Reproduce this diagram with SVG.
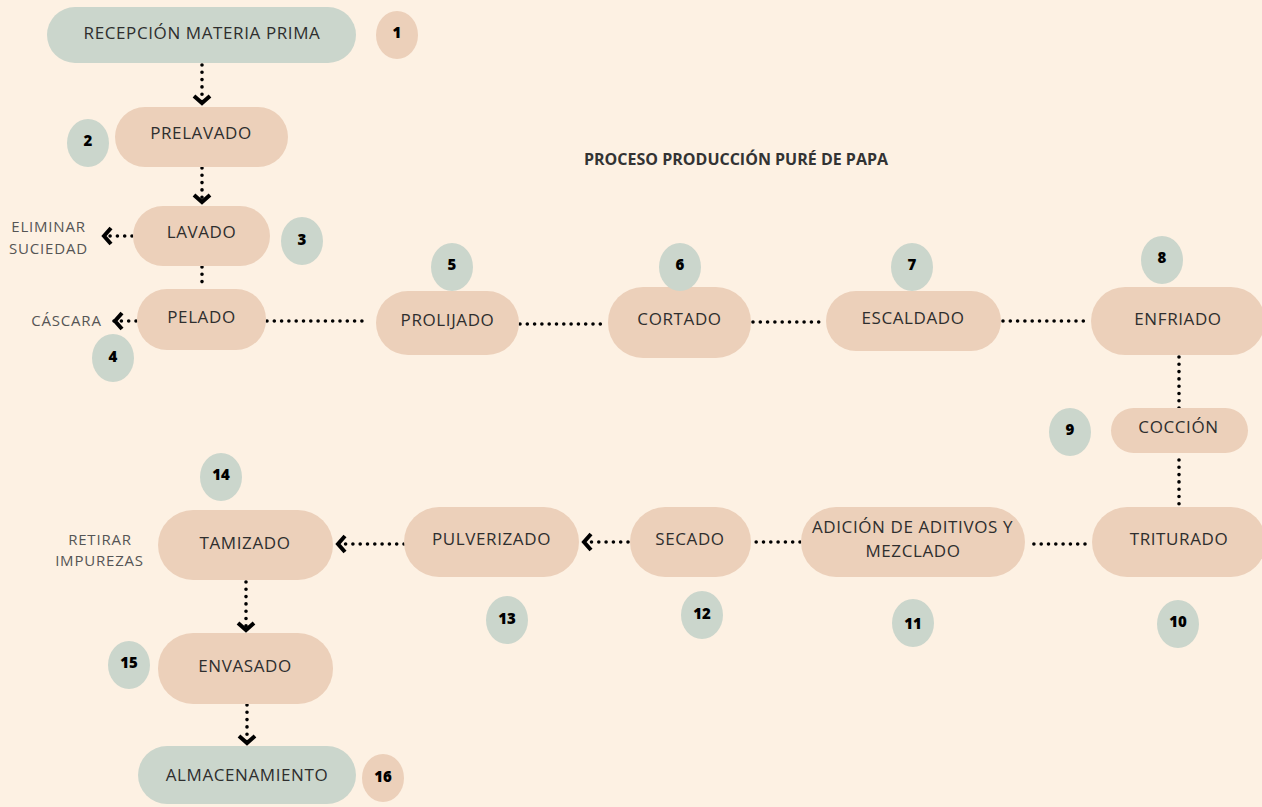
<svg xmlns="http://www.w3.org/2000/svg" width="1262" height="807" viewBox="0 0 1262 807">
<style>
.bg{fill:#fdf1e3}
.peach{fill:#ecd0ba}
.sage{fill:#cbd6cc}
.lbl{font-family:"Open Sans","Liberation Sans",sans-serif;font-size:17px;fill:#2e2e2e;text-anchor:middle;letter-spacing:0.6px}
.side{font-family:"Open Sans","Liberation Sans",sans-serif;font-size:15px;fill:#555;text-anchor:middle;letter-spacing:0.8px}
.num{font-family:"Open Sans","Liberation Sans",sans-serif;font-size:15px;font-weight:800;fill:#000;text-anchor:middle}
.title{font-family:"Open Sans","Liberation Sans",sans-serif;font-size:16px;font-weight:bold;fill:#333;text-anchor:middle}
.dot{fill:none;stroke:#000;stroke-width:3.6;stroke-linecap:round;stroke-dasharray:0 7.3}
.arr{marker-end:url(#chev)}
</style>
<defs>
<marker id="chev" markerUnits="userSpaceOnUse" markerWidth="24" markerHeight="24" refX="12" refY="12" orient="auto" overflow="visible">
<path d="M4,4 L11,12 L4,20" fill="none" stroke="#000" stroke-width="4" stroke-linejoin="miter" stroke-dasharray="none"/>
</marker>
</defs>
<rect class="bg" x="0" y="0" width="1262" height="807"/>
<text class="title" x="736" y="165">PROCESO PRODUCCIÓN PURÉ DE PAPA</text>

<g id="connectors">
<path class="dot arr" d="M202,65 L202,104"/>
<path class="dot arr" d="M202,168 L202,203"/>
<path class="dot arr" d="M132,236 L103,236"/>
<path class="dot" d="M202,267 L202,284"/>
<path class="dot arr" d="M136,321 L114,321"/>
<path class="dot" d="M267,321 L369,321"/>
<path class="dot" d="M520,324 L606,324"/>
<path class="dot" d="M753,322 L823,322"/>
<path class="dot" d="M1003,321 L1090,321"/>
<path class="dot" d="M1179,357 L1179,409"/>
<path class="dot" d="M1179,460 L1179,507"/>
<path class="dot" d="M1085,544 L1027,544"/>
<path class="dot" d="M800,542 L753,542"/>
<path class="dot arr" d="M628,542 L583,542"/>
<path class="dot arr" d="M404,544 L337,544"/>
<path class="dot arr" d="M246,582 L246,631"/>
<path class="dot arr" d="M247,705 L247,744"/>
</g>

<g id="n1"><rect class="sage" x="47" y="7" width="309" height="56" rx="28"/><text class="lbl" x="202" y="39">RECEPCIÓN MATERIA PRIMA</text></g>
<g id="b1"><ellipse class="peach" cx="397" cy="35" rx="21" ry="24"/><text class="num" x="397" y="38">1</text></g>

<g id="n2"><rect class="peach" x="115" y="107" width="173" height="60" rx="30"/><text class="lbl" x="201" y="139">PRELAVADO</text></g>
<g id="b2"><ellipse class="sage" cx="88" cy="143" rx="21" ry="24"/><text class="num" x="88" y="146">2</text></g>

<g id="n3"><rect class="peach" x="133" y="206" width="137" height="60" rx="30"/><text class="lbl" x="201.5" y="238">LAVADO</text></g>
<g id="b3"><ellipse class="sage" cx="302" cy="241" rx="21" ry="24"/><text class="num" x="302" y="245">3</text></g>
<g id="t3"><text class="side" x="48.5" y="232">ELIMINAR</text><text class="side" x="48.5" y="254">SUCIEDAD</text></g>

<g id="n4"><rect class="peach" x="137" y="289" width="129" height="61" rx="30"/><text class="lbl" x="201.5" y="323">PELADO</text></g>
<g id="b4"><ellipse class="sage" cx="113" cy="358" rx="21" ry="24"/><text class="num" x="113" y="362">4</text></g>
<g id="t4"><text class="side" x="66.5" y="326">CÁSCARA</text></g>

<g id="n5"><rect class="peach" x="376" y="291" width="143" height="64" rx="32"/><text class="lbl" x="447.5" y="326">PROLIJADO</text></g>
<g id="b5"><ellipse class="sage" cx="452" cy="267" rx="21" ry="24"/><text class="num" x="452" y="270">5</text></g>

<g id="n6"><rect class="peach" x="608" y="287" width="143" height="71" rx="35"/><text class="lbl" x="679.5" y="325">CORTADO</text></g>
<g id="b6"><ellipse class="sage" cx="680" cy="267" rx="21" ry="24"/><text class="num" x="680" y="270">6</text></g>

<g id="n7"><rect class="peach" x="826" y="291" width="175" height="60" rx="30"/><text class="lbl" x="913" y="324">ESCALDADO</text></g>
<g id="b7"><ellipse class="sage" cx="912" cy="267" rx="21" ry="24"/><text class="num" x="912" y="270">7</text></g>

<g id="n8"><rect class="peach" x="1091" y="287" width="174" height="68" rx="34"/><text class="lbl" x="1178" y="325">ENFRIADO</text></g>
<g id="b8"><ellipse class="sage" cx="1162" cy="260" rx="21" ry="24"/><text class="num" x="1162" y="263">8</text></g>

<g id="n9"><rect class="peach" x="1111" y="408" width="137" height="45" rx="22.5"/><text class="lbl" x="1178.5" y="433">COCCIÓN</text></g>
<g id="b9"><ellipse class="sage" cx="1070" cy="432" rx="21" ry="24"/><text class="num" x="1070" y="435">9</text></g>

<g id="n10"><rect class="peach" x="1092" y="507" width="174" height="70" rx="35"/><text class="lbl" x="1179" y="545">TRITURADO</text></g>
<g id="b10"><ellipse class="sage" cx="1178" cy="624" rx="21" ry="24"/><text class="num" x="1178" y="627">10</text></g>

<g id="n11"><rect class="peach" x="801" y="507" width="224" height="70" rx="35"/><text class="lbl" x="912.5" y="533">ADICIÓN DE ADITIVOS Y</text><text class="lbl" x="913" y="557">MEZCLADO</text></g>
<g id="b11"><ellipse class="sage" cx="913" cy="623" rx="21" ry="24"/><text class="num" x="913" y="629">11</text></g>

<g id="n12"><rect class="peach" x="630" y="507" width="121" height="70" rx="35"/><text class="lbl" x="690" y="545">SECADO</text></g>
<g id="b12"><ellipse class="sage" cx="702" cy="615" rx="21" ry="24"/><text class="num" x="702" y="619">12</text></g>

<g id="n13"><rect class="peach" x="404" y="507" width="175" height="70" rx="35"/><text class="lbl" x="491.5" y="545">PULVERIZADO</text></g>
<g id="b13"><ellipse class="sage" cx="507" cy="620" rx="21" ry="24"/><text class="num" x="507" y="624">13</text></g>

<g id="n14"><rect class="peach" x="158" y="510" width="175" height="70" rx="35"/><text class="lbl" x="245" y="549">TAMIZADO</text></g>
<g id="b14"><ellipse class="sage" cx="221" cy="477" rx="21" ry="24"/><text class="num" x="221" y="480">14</text></g>
<g id="t14"><text class="side" x="100" y="545">RETIRAR</text><text class="side" x="99.5" y="566">IMPUREZAS</text></g>

<g id="n15"><rect class="peach" x="158" y="633" width="175" height="71" rx="35"/><text class="lbl" x="245" y="672">ENVASADO</text></g>
<g id="b15"><ellipse class="sage" cx="129" cy="665" rx="21" ry="24"/><text class="num" x="129" y="668">15</text></g>

<g id="n16"><rect class="sage" x="138" y="746" width="218" height="58" rx="29"/><text class="lbl" x="247" y="781">ALMACENAMIENTO</text></g>
<g id="b16"><ellipse class="peach" cx="383" cy="778" rx="21" ry="24"/><text class="num" x="383" y="782">16</text></g>
</svg>
